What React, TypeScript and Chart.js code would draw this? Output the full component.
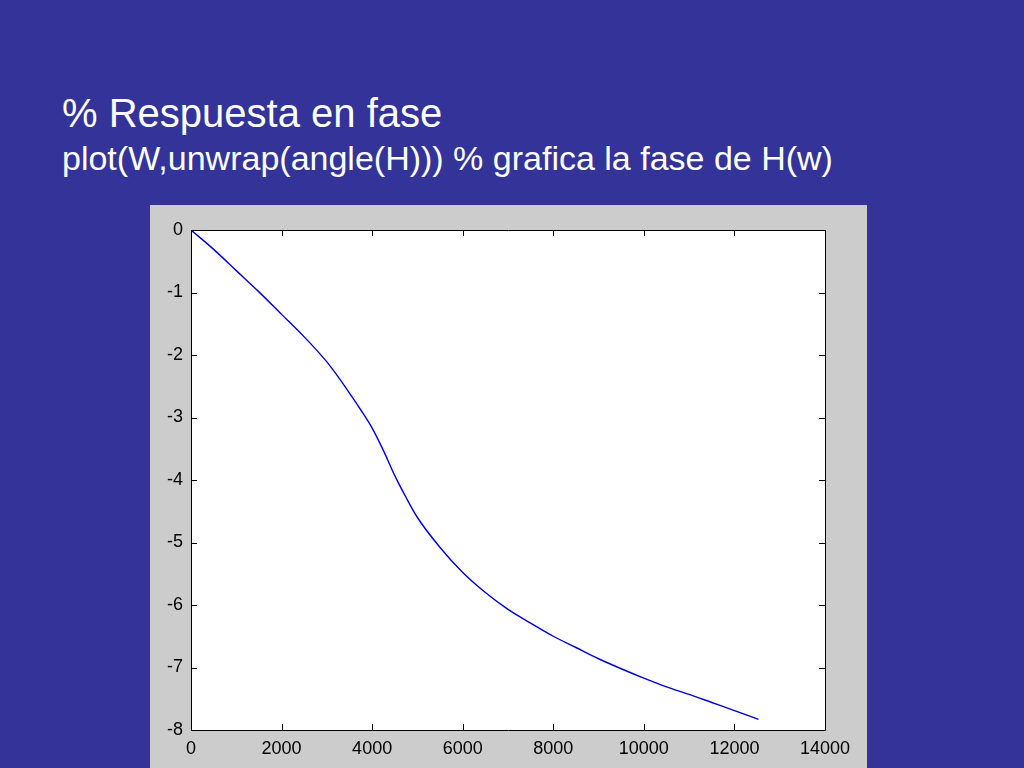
import React, { useEffect, useRef } from "react";
import { Chart, registerables } from "chart.js";

Chart.register(...registerables);

const TITLE_LINE_1 = "% Respuesta en fase";
const TITLE_LINE_2 = "plot(W,unwrap(angle(H))) % grafica la fase de H(w)";

const W_VALUES = [
  0, 500, 1000, 1500, 2000, 2500, 3000, 3250, 3500, 3750, 4000, 4250, 4500,
  4750, 5000, 5500, 6000, 6500, 7000, 7500, 8000, 8500, 9000, 9500, 10000,
  10500, 11000, 11500, 12000, 12530,
];
const PHASE_VALUES = [
  0, -0.31, -0.65, -0.99, -1.35, -1.71, -2.11, -2.35, -2.61, -2.88, -3.17,
  -3.53, -3.93, -4.28, -4.6, -5.08, -5.48, -5.8, -6.07, -6.29, -6.5, -6.68,
  -6.86, -7.02, -7.17, -7.31, -7.43, -7.56, -7.69, -7.83,
];
const X_MIN = 0;
const X_MAX = 14000;
const X_STEP = 2000;
const Y_MIN = -8;
const Y_MAX = 0;
const Y_STEP = 1;

const framePlugin = {
  id: "matlabFrame",
  beforeDatasetsDraw(chart: any) {
    const { ctx, chartArea: a } = chart;
    ctx.save();
    ctx.fillStyle = "#ffffff";
    ctx.fillRect(a.left, a.top, a.right - a.left, a.bottom - a.top);
    ctx.restore();
  },
  afterDatasetsDraw(chart: any) {
    const { ctx, chartArea: a, scales } = chart;
    const x = scales.x;
    const y = scales.y;
    const tl = 6;
    ctx.save();
    ctx.strokeStyle = "#000000";
    ctx.lineWidth = 1;
    ctx.beginPath();
    ctx.rect(
      Math.round(a.left) + 0.5,
      Math.round(a.top) + 0.5,
      Math.round(a.right - a.left),
      Math.round(a.bottom - a.top)
    );
    x.ticks.forEach((t: any) => {
      const px = Math.round(x.getPixelForValue(t.value)) + 0.5;
      ctx.moveTo(px, a.bottom);
      ctx.lineTo(px, a.bottom - tl);
      ctx.moveTo(px, a.top);
      ctx.lineTo(px, a.top + tl);
    });
    y.ticks.forEach((t: any) => {
      const py = Math.round(y.getPixelForValue(t.value)) + 0.5;
      ctx.moveTo(a.left, py);
      ctx.lineTo(a.left + tl, py);
      ctx.moveTo(a.right, py);
      ctx.lineTo(a.right - tl, py);
    });
    ctx.stroke();
    ctx.restore();
  },
};

function PhaseChart() {
  const ref = useRef<HTMLCanvasElement>(null);
  useEffect(() => {
    if (!ref.current) return;
    const points = W_VALUES.map((w, i) => ({ x: w, y: PHASE_VALUES[i] }));
    const font = { family: "'Liberation Sans', Arial, sans-serif", size: 18 };
    const chart = new Chart(ref.current, {
      type: "scatter",
      data: {
        datasets: [
          {
            data: points,
            showLine: true,
            borderColor: "#0000d8",
            borderWidth: 1.4,
            pointRadius: 0,
            cubicInterpolationMode: "monotone",
            fill: false,
          },
        ],
      },
      options: {
        animation: false,
        responsive: false,
        devicePixelRatio: 1,
        layout: { padding: { top: 25, right: 42, left: 0, bottom: 0 } },
        plugins: {
          legend: { display: false },
          tooltip: { enabled: false },
        },
        scales: {
          x: {
            type: "linear",
            min: X_MIN,
            max: X_MAX,
            grid: { display: false, drawTicks: false },
            border: { display: false },
            ticks: {
              stepSize: X_STEP,
              color: "#000000",
              font,
              padding: 8,
              maxRotation: 0,
              callback: (v: any) => String(v),
            },
            afterFit: (s: any) => {
              s.height = 38;
            },
          },
          y: {
            type: "linear",
            min: Y_MIN,
            max: Y_MAX,
            grid: { display: false, drawTicks: false },
            border: { display: false },
            ticks: {
              stepSize: Y_STEP,
              color: "#000000",
              font,
              padding: 8,
              callback: (v: any) => String(v),
            },
            afterFit: (s: any) => {
              s.width = 41;
            },
          },
        },
      },
      plugins: [framePlugin],
    } as any);
    return () => chart.destroy();
  }, []);
  return (
    <canvas
      ref={ref}
      width={717}
      height={563}
      style={{
        position: "absolute",
        left: 150,
        top: 205,
        width: 717,
        height: 563,
        background: "#cccccc",
      }}
    />
  );
}

export default function App() {
  const textBase: React.CSSProperties = {
    position: "absolute",
    left: 62,
    color: "#ffffff",
    fontFamily: "'Liberation Sans', Arial, sans-serif",
    whiteSpace: "nowrap",
    margin: 0,
  };
  return (
    <div
      style={{
        position: "fixed",
        left: 0,
        top: 0,
        width: 1024,
        height: 768,
        background: "#333399",
        overflow: "hidden",
      }}
    >
      <div style={{ ...textBase, top: 93, fontSize: 40, lineHeight: "40px" }}>
        {TITLE_LINE_1}
      </div>
      <div style={{ ...textBase, top: 141, fontSize: 34, lineHeight: "34px" }}>
        {TITLE_LINE_2}
      </div>
      <PhaseChart />
    </div>
  );
}
